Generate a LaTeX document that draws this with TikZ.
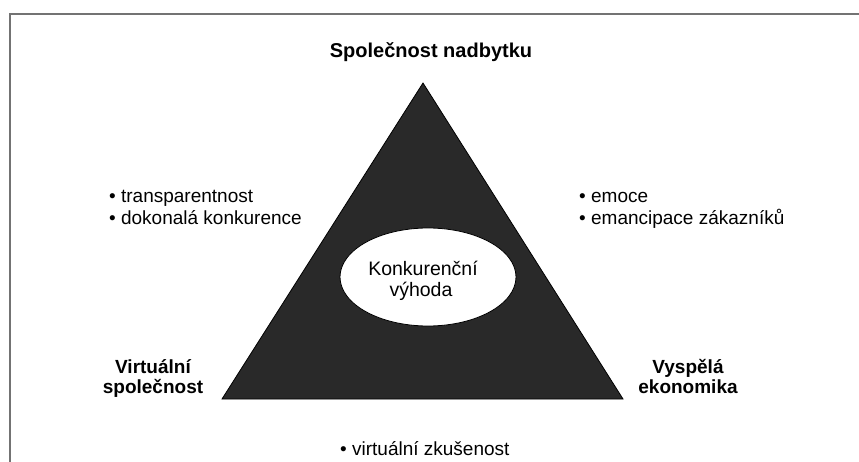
\documentclass[tikz,border=0pt]{standalone}
\usepackage{fontspec}
\setmainfont{Liberation Sans}
\usetikzlibrary{shapes.geometric}
\begin{document}
\begin{tikzpicture}[x=1pt,y=-1pt,
  frameline/.style={draw=black!55,line width=2pt},
  corner/.style={font=\fontsize{19}{22}\selectfont\bfseries,inner sep=0pt},
  item/.style={font=\fontsize{19}{22}\selectfont,inner sep=0pt,anchor=base west},
  center/.style={font=\fontsize{19.5}{23}\selectfont,inner sep=0pt,anchor=base}]
\useasboundingbox (0,0) rectangle (859,462);
\fill[white] (0,0) rectangle (859,462);
% frame edges
\draw[frameline] (10,462) -- (10,14) -- (859,14);
% triangle
\coordinate (top) at (423,83);
\coordinate (bl) at (222,399);
\coordinate (br) at (623,399);
\filldraw[fill=black!84,draw=black,line width=0.8pt] (top) -- (bl) -- (br) -- cycle;
% central ellipse
\node[ellipse,draw=black,line width=0.8pt,fill=white,minimum width=176pt,minimum height=98pt,inner sep=0pt] (core) at (428,277) {};
\node[center] (core1) at (423,276) {Konkurenční};
\node[center] (core2) at (421,297) {výhoda};
% corner labels
\node[corner,anchor=base,font=\fontsize{20}{22}\selectfont\bfseries] (apex) at (431,58) {Společnost nadbytku};
\node[corner,anchor=base] (vl1) at (153,373) {Virtuální};
\node[corner,anchor=base] (vl2) at (153,393) {společnost};
\node[corner,anchor=base] (ve1) at (688,373) {Vyspělá};
\node[corner,anchor=base] (ve2) at (688,393) {ekonomika};
% side lists
\node[item] (l1) at (109,203) {• transparentnost};
\node[item] (l2) at (109,225) {• dokonalá konkurence};
\node[item] (r1) at (579,203) {• emoce};
\node[item] (r2) at (579,225) {• emancipace zákazníků};
\node[item] (b1) at (340,455) {• virtuální zkušenost};
\end{tikzpicture}
\end{document}
